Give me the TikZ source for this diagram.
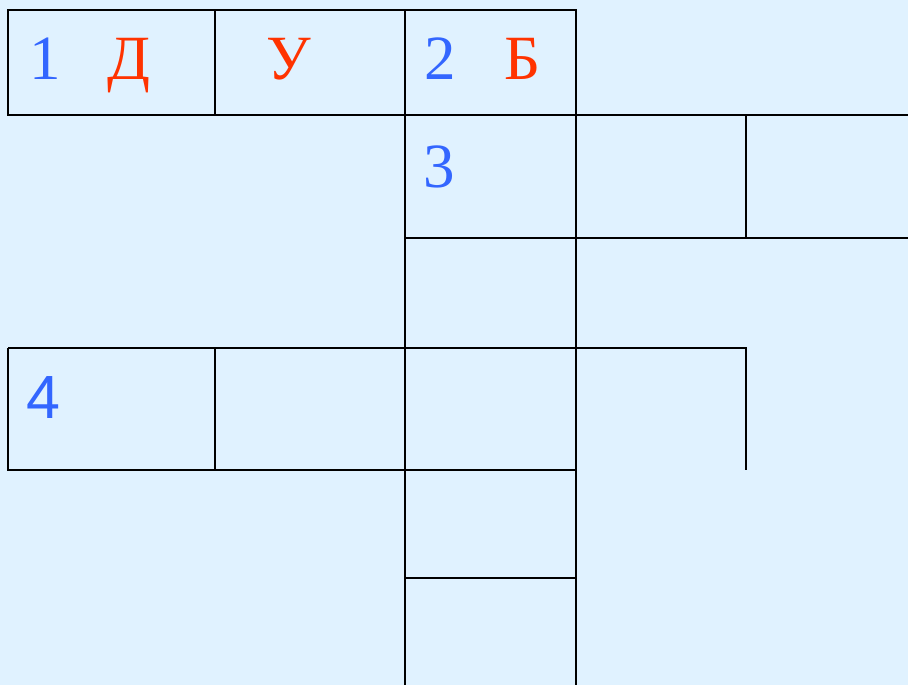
\documentclass[tikz,border=0pt]{standalone}
\usepackage{fontspec}
\setmainfont{Liberation Serif}
\newfontfamily\sansdigit{Liberation Sans}
\definecolor{bgblue}{RGB}{224,242,255}
\definecolor{numblue}{RGB}{51,102,255}
\definecolor{letred}{RGB}{255,51,0}
\tikzset{
  gridline/.style={line width=2.9pt, black},
  numtext/.style={anchor=base west, inner sep=0pt, text=numblue, font=\fontsize{63}{70}\selectfont},
  lettext/.style={anchor=base west, inner sep=0pt, text=letred, font=\fontsize{63}{70}\selectfont},
}
\begin{document}
\begin{tikzpicture}[x=1pt,y=-1pt]
\fill[bgblue] (0,0) rectangle (908,685);
\useasboundingbox (0,0) rectangle (908,685);
% row 1
\draw[gridline] (8,10) rectangle (576,115);
\draw[gridline] (215,10) -- (215,115);
\draw[gridline] (405,10) -- (405,685);
\draw[gridline] (576,115) -- (576,685);
\draw[gridline] (576,115) -- (908,115);
% row 2
\draw[gridline] (746,115) -- (746,238);
\draw[gridline] (405,238) -- (908,238);
% row 4
\draw[gridline] (8,348) -- (746,348) -- (746,470);
\draw[gridline] (8,348) -- (8,470) -- (576,470);
\draw[gridline] (215,348) -- (215,470);
% lower
\draw[gridline] (405,578) -- (576,578);
% texts
\node[numtext] (n1) at (29,80) {1};
\node[lettext] (l1) at (107,80) {Д};
\node[lettext] (l2) at (266,80) {У};
\node[numtext] (n2) at (424,80) {2};
\node[lettext] (l3) at (504,80) {Б};
\node[numtext] (n3) at (423,187) {3};
\node[numtext, font=\sansdigit\fontsize{61}{70}\selectfont] (n4) at (26,418) {4};
\end{tikzpicture}
\end{document}
